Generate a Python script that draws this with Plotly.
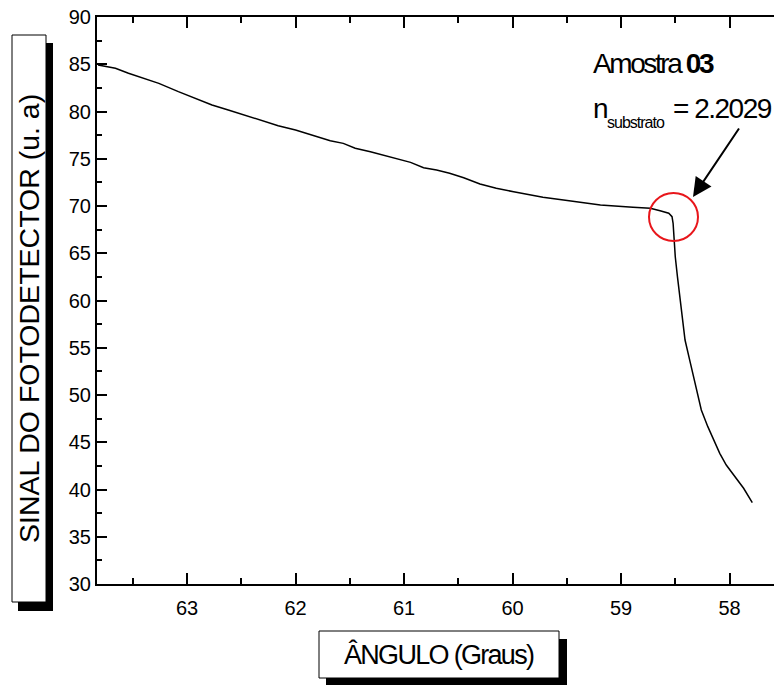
import plotly.graph_objects as go

# ---- data ----
angulo = [63.82, 63.66, 63.54, 63.39, 63.26, 63.08, 62.93, 62.77, 62.62, 62.47,
          62.31, 62.16, 62.00, 61.88, 61.68, 61.56, 61.45, 61.31, 61.19, 61.07,
          60.94, 60.82, 60.70, 60.58, 60.45, 60.30, 60.15, 59.99, 59.84, 59.72,
          59.53, 59.19, 58.89, 58.73, 58.64, 58.56, 58.53, 58.52, 58.51, 58.50,
          58.48, 58.46, 58.44, 58.41, 58.36, 58.32, 58.26, 58.20, 58.13, 58.09,
          58.03, 57.95, 57.87, 57.79]
sinal = [84.92, 84.57, 84.04, 83.51, 82.98, 82.10, 81.40, 80.69, 80.16, 79.63,
         78.99, 78.50, 78.04, 77.59, 76.91, 76.63, 76.11, 75.75, 75.40, 75.05,
         74.62, 74.05, 73.81, 73.46, 72.99, 72.33, 71.87, 71.51, 71.16, 70.92,
         70.63, 70.11, 69.86, 69.76, 69.50, 69.23, 68.87, 68.17, 66.40, 64.63,
         62.52, 60.40, 58.65, 55.82, 53.35, 51.24, 48.41, 46.65, 44.89, 43.83,
         42.59, 41.35, 40.13, 38.60]

x_ticks = [63, 62, 61, 60, 59, 58]
y_ticks = [30, 35, 40, 45, 50, 55, 60, 65, 70, 75, 80, 85, 90]

x_title = "ÂNGULO (Graus)"
y_title = "SINAL DO FOTODETECTOR (u. a)"
amostra = "Amostra"
amostra_num = "03"
n_sub = "substrato"
n_val = "= 2.2029"

# ---- layout geometry (pixels) ----
W, H = 774, 685
L, R, T, B = 97, 774, 17, 584

def px(xp):
    return (xp - L) / (R - L)

def py(yp):
    return (B - yp) / (B - T)

FONT = "Liberation Sans, Arial, sans-serif"

fig = go.Figure()
fig.add_trace(go.Scatter(x=angulo, y=sinal, mode="lines",
                         line=dict(color="black", width=1.5),
                         hoverinfo="skip", showlegend=False))

axis_common = dict(showgrid=False, zeroline=False, showline=True,
                   linecolor="black", linewidth=2, ticks="inside",
                   tickcolor="black", tickwidth=1.5,
                   tickfont=dict(family=FONT, size=20, color="black"))

fig.update_xaxes(range=[63.83, 57.59], tickvals=x_ticks,
                 ticktext=[str(v) for v in x_ticks], ticklen=11,
                 mirror="ticks", ticklabelstandoff=5,
                 minor=dict(ticks="inside", ticklen=6, dtick=0.5,
                            tickcolor="black", tickwidth=1.5),
                 **axis_common)
fig.update_yaxes(range=[30, 90], tickvals=y_ticks,
                 ticktext=[str(v) for v in y_ticks], ticklen=10,
                 mirror=False,
                 minor=dict(ticks="inside", ticklen=5, dtick=2.5,
                            tickcolor="black", tickwidth=1.5),
                 **axis_common)

shapes = []
# y-title box with shadow
shapes.append(dict(type="rect", xref="paper", yref="paper",
                   x0=px(18), x1=px(53), y0=py(611), y1=py(43),
                   fillcolor="black", line=dict(width=0)))
shapes.append(dict(type="rect", xref="paper", yref="paper",
                   x0=px(12), x1=px(46), y0=py(602), y1=py(35),
                   fillcolor="white", line=dict(color="black", width=1)))
# x-title box with shadow
shapes.append(dict(type="rect", xref="paper", yref="paper",
                   x0=px(326), x1=px(567), y0=py(687), y1=py(639),
                   fillcolor="black", line=dict(width=0)))
shapes.append(dict(type="rect", xref="paper", yref="paper",
                   x0=px(319), x1=px(559), y0=py(678), y1=py(631),
                   fillcolor="white", line=dict(color="black", width=1)))
# red circle
shapes.append(dict(type="circle", xref="paper", yref="paper",
                   x0=px(649), x1=px(698), y0=py(241), y1=py(193),
                   line=dict(color="#e8161b", width=2)))

ann = []
ann.append(dict(xref="paper", yref="paper", x=px(29), y=py(319),
                text=y_title, textangle=-90, showarrow=False,
                font=dict(family=FONT, size=28.5, color="black"),
                xanchor="center", yanchor="middle"))
ann.append(dict(xref="paper", yref="paper", x=px(439), y=py(654),
                text='<span style="letter-spacing:-1.7px">' + x_title + '</span>',
                showarrow=False,
                font=dict(family=FONT, size=27, color="black"),
                xanchor="center", yanchor="middle"))
ann.append(dict(xref="paper", yref="paper", x=px(591), y=py(63),
                text='<span style="letter-spacing:-2.4px">' + amostra +
                     ' <b>' + amostra_num + '</b></span>',
                showarrow=False,
                font=dict(family=FONT, size=28, color="black"),
                xanchor="left", yanchor="middle"))
ann.append(dict(xref="paper", yref="paper", x=px(591), y=py(108),
                text='n', showarrow=False,
                font=dict(family=FONT, size=28, color="black"),
                xanchor="left", yanchor="middle"))
ann.append(dict(xref="paper", yref="paper", x=px(605), y=py(122),
                text='<span style="letter-spacing:-1px">' + n_sub + '</span>',
                showarrow=False,
                font=dict(family=FONT, size=16, color="black"),
                xanchor="left", yanchor="middle"))
ann.append(dict(xref="paper", yref="paper", x=px(671), y=py(108),
                text='<span style="letter-spacing:-1.5px">' + n_val + '</span>',
                showarrow=False,
                font=dict(family=FONT, size=28, color="black"),
                xanchor="left", yanchor="middle"))
# arrow
ann.append(dict(xref="paper", yref="paper", x=px(693), y=py(197),
                ax=47, ay=-70, text="", showarrow=True,
                arrowhead=2, arrowsize=1.9, arrowwidth=2,
                arrowcolor="black", standoff=0))

fig.update_layout(width=W, height=H, autosize=False,
                  margin=dict(l=L, r=W - R, t=T, b=H - B, pad=0),
                  paper_bgcolor="white", plot_bgcolor="white",
                  shapes=shapes, annotations=ann,
                  font=dict(family=FONT, color="black"))

fig.write_html("out.html")
